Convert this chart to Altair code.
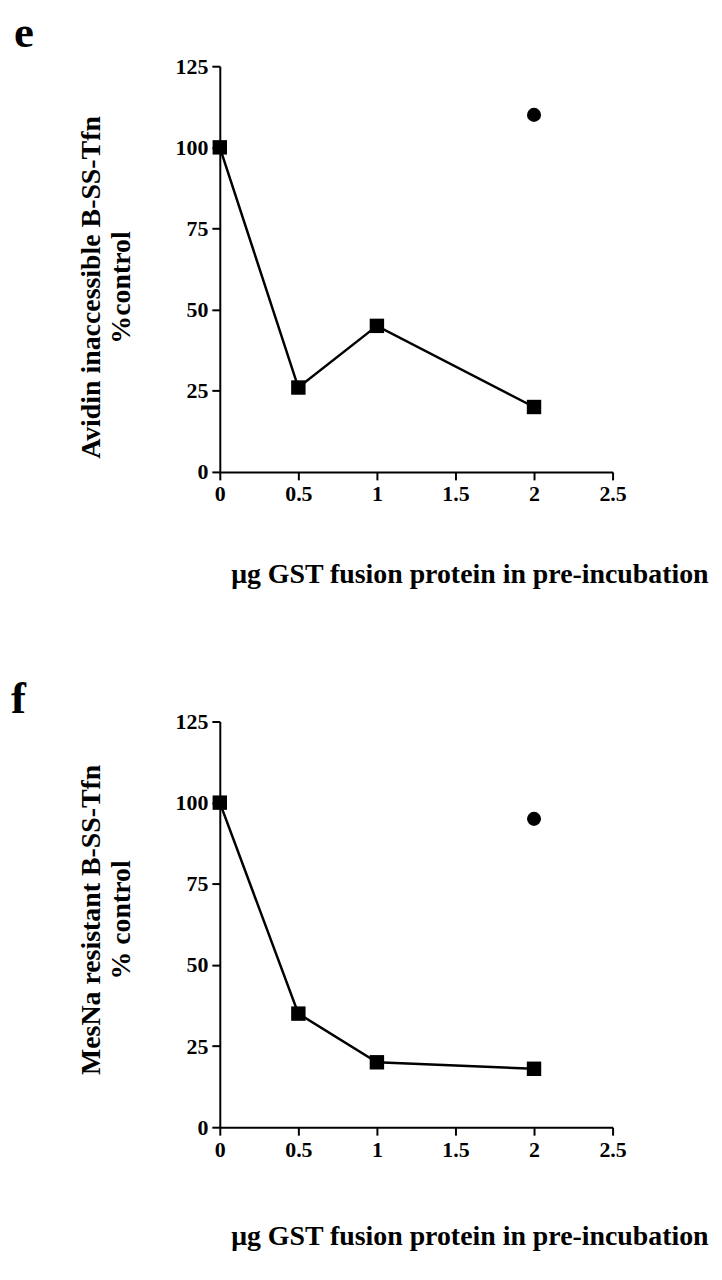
import altair as alt
import pandas as pd

# Panel e
e_x = [0, 0.5, 1, 2]
e_y = [100, 26, 45, 20]
e_ctrl_x = [2]
e_ctrl_y = [110]
# Panel f
f_x = [0, 0.5, 1, 2]
f_y = [100, 35, 20, 18]
f_ctrl_x = [2]
f_ctrl_y = [95]

x_ticks = [0, 0.5, 1, 1.5, 2, 2.5]
y_ticks = [0, 25, 50, 75, 100, 125]
x_title = "\u03bcg GST fusion protein in pre-incubation"

FONT = "Liberation Serif"


def panel(xs, ys, cx, cy, letter, ytitle, ytitle_y, ldx, loff, xtp):
    df = pd.DataFrame({"x": xs, "y": ys})
    dc = pd.DataFrame({"x": cx, "y": cy})
    xenc = alt.X("x:Q", scale=alt.Scale(domain=[0, 2.5], nice=False),
                 axis=alt.Axis(values=x_ticks, format="~g", title=x_title,
                               titlePadding=xtp, titleX=251, titleAlign="center"))
    yenc = alt.Y("y:Q", scale=alt.Scale(domain=[0, 125], nice=False),
                 axis=alt.Axis(values=y_ticks, title=ytitle, titlePadding=40,
                               titleY=ytitle_y))
    line = alt.Chart(df).mark_line(color="black", strokeWidth=2.5).encode(x=xenc, y=yenc)
    sq = alt.Chart(df).mark_point(shape="square", filled=True, color="black",
                                  size=210, opacity=1).encode(x="x:Q", y="y:Q")
    circ = alt.Chart(dc).mark_point(shape="circle", filled=True, color="black",
                                    size=200, opacity=1).encode(x="x:Q", y="y:Q")
    return alt.layer(line, sq, circ).properties(
        width=395, height=408,
        title=alt.TitleParams(letter, anchor="start", frame="group", dx=ldx,
                              offset=loff, fontSize=45, font=FONT,
                              fontWeight="bold", color="black"))


pe = panel(e_x, e_y, e_ctrl_x, e_ctrl_y, "e",
           ["Avidin inaccessible B-SS-Tfn", "%control"], 222, -207, -1, 56)
pf = panel(f_x, f_y, f_ctrl_x, f_ctrl_y, "f",
           ["MesNa resistant B-SS-Tfn", "% control"], 199, -210, -11, 63)

chart = alt.vconcat(pe, pf, spacing=89, background="white",
                    padding={"top": 0, "left": 3, "right": 5, "bottom": 5}
                    ).configure_view(stroke=None).configure_axis(
    domainColor="black", domainWidth=2, tickColor="black", tickWidth=2, tickSize=8,
    labelColor="black", labelFont=FONT, labelFontWeight="bold", labelFontSize=22,
    labelPadding=4, titleColor="black", titleFont=FONT, titleFontWeight="bold",
    titleFontSize=28, grid=False, labelFlush=False
)

chart.save("out.html", embed_options={"renderer": "svg", "actions": False})
